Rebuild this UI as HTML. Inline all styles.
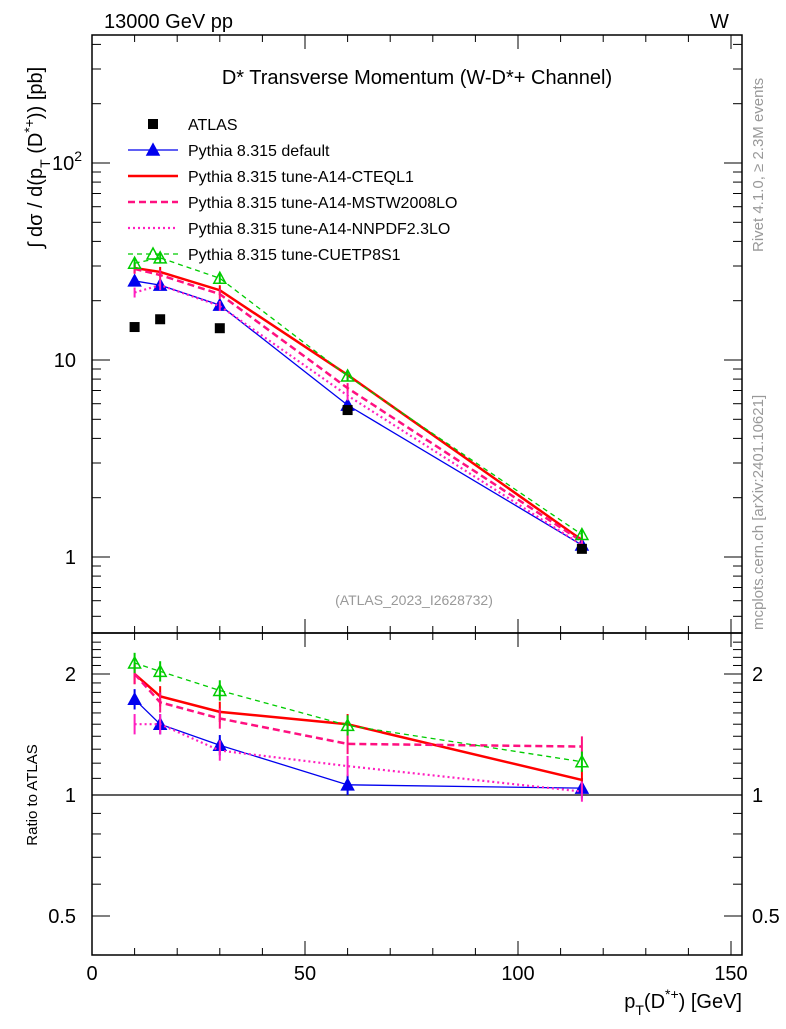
<!DOCTYPE html>
<html><head><meta charset="utf-8"><style>
body{margin:0;background:#fff;}
svg text{font-family:"Liberation Sans",sans-serif;}
</style></head><body>
<svg id="c" width="786" height="1024" xmlns="http://www.w3.org/2000/svg"></svg>
<script>
const xVals=[10,16,30,60,115];
const atlas=[14.7,16.1,14.5,5.57,1.1];
const mDefault=[25.2,24,19,5.9,1.15];
const mCteq=[29.3,28,22.6,8.4,1.22];
const mMstw=[29,27,21.6,7.2,1.2];
const mNnpdf=[22,24,18.8,6.6,1.15];
const mCuet=[31,33,26,8.3,1.3];
const rDefault=[1.73,1.50,1.33,1.06,1.04];
const rCteq=[2.0,1.76,1.61,1.50,1.09];
const rMstw=[2.0,1.70,1.55,1.34,1.32];
const rNnpdf=[1.50,1.50,1.29,1.18,1.02];
const rCuet=[2.13,2.03,1.82,1.49,1.21];
const xTicks=[0,50,100,150];
const svg=document.getElementById('c');
const NS='http://www.w3.org/2000/svg';
function el(t,a,p){const e=document.createElementNS(NS,t);for(const k in a)e.setAttribute(k,a[k]);(p||svg).appendChild(e);return e;}
const X=v=>92+v*4.26;
const Y=v=>557-Math.log10(v)*197;
const R=v=>795-Math.log10(v)*402;
const L=92,Rt=742,T=35,M=633,B=955;
// frames
let f=el('rect',{x:L,y:T,width:Rt-L,height:M-T,fill:'none',stroke:'#000','stroke-width':1.5});

f=el('rect',{x:L,y:M,width:Rt-L,height:B-M,fill:'none',stroke:'#000','stroke-width':1.5});

// x ticks
for(let v=0;v<=150;v+=10){const maj=v%50==0;const l=maj?14:7;
[[T,1],[M,-1],[M,1],[B,-1]].forEach(([y,d])=>el('line',{x1:X(v),x2:X(v),y1:y,y2:y+d*l,stroke:'#000'}));}
xTicks.forEach(v=>{const t=el('text',{x:X(v),y:980,'text-anchor':'middle','font-size':20});t.textContent=v;
});
// main y ticks
for(let d=-1;d<=2;d++)for(let k=1;k<10;k++){const v=k*Math.pow(10,d);const y=Y(v);if(y<T||y>M)continue;const l=k==1?18:9;
el('line',{x1:L,x2:L+l,y1:y,y2:y,stroke:'#000'});el('line',{x1:Rt,x2:Rt-l,y1:y,y2:y,stroke:'#000'});}
[[1,'1'],[10,'10']].forEach(([v,s])=>{const t=el('text',{x:76,y:Y(v)+7,'text-anchor':'end','font-size':20});t.textContent=s;
});
let t=el('text',{x:52,y:Y(100)+7,'font-size':20});t.innerHTML='10<tspan dy="-9" font-size="14">2</tspan>';

// ratio y ticks
for(let v=0.4;v<=2.5;v+=0.1){const y=R(v);if(y<M||y>B)continue;const maj=[0.5,1,2].some(q=>Math.abs(q-v)<1e-6);const l=maj?18:9;
el('line',{x1:L,x2:L+l,y1:y,y2:y,stroke:'#000'});el('line',{x1:Rt,x2:Rt-l,y1:y,y2:y,stroke:'#000'});}
[[0.5,'0.5'],[1,'1'],[2,'2']].forEach(([v,s])=>{let a=el('text',{x:76,y:R(v)+7,'text-anchor':'end','font-size':20});a.textContent=s;

a=el('text',{x:752,y:R(v)+7,'font-size':20});a.textContent=s;
});
el('line',{x1:L,x2:Rt,y1:R(1),y2:R(1),stroke:'#000','stroke-width':1.2});
// series
const styles=[
 {n:'default',m:mDefault,r:rDefault,c:'#0000ee',w:1.3,d:'',mk:'tri'},
 {n:'cteql1',m:mCteq,r:rCteq,c:'#ff0000',w:2.5,d:'',mk:''},
 {n:'mstw',m:mMstw,r:rMstw,c:'#ff1080',w:2.5,d:'7,4',mk:''},
 {n:'nnpdf',m:mNnpdf,r:rNnpdf,c:'#ff20c0',w:2.2,d:'2,3',mk:''},
 {n:'cuetp8s1',m:mCuet,r:rCuet,c:'#00cc00',w:1.3,d:'5,4',mk:'otri'}];
function drawSeries(s,vals,F,pfx){
 const g=el('g',{});
 const p=el('polyline',{points:xVals.map((x,i)=>X(x)+','+F(vals[i])).join(' '),fill:'none',stroke:s.c,'stroke-width':s.w,'stroke-dasharray':s.d},g);
 
 xVals.forEach((x,i)=>{const cx=X(x),cy=F(vals[i]);
  el('line',{x1:cx,x2:cx,y1:F(vals[i]*1.06),y2:F(vals[i]/1.06),stroke:s.c,'stroke-width':2},g);
  if(s.mk){const tr=el('polygon',{points:`${cx},${cy-6} ${cx-6},${cy+5} ${cx+6},${cy+5}`,fill:s.mk=='tri'?s.c:'none',stroke:s.c,'stroke-width':1.5},g);
  }});
}
styles.forEach(s=>{drawSeries(s,s.m,Y,'main');drawSeries(s,s.r,R,'ratio');});
xVals.forEach((x,i)=>{const r=el('rect',{x:X(x)-5,y:Y(atlas[i])-5,width:10,height:10,fill:'#000'});
});
// legend
const leg=[['ATLAS',null],['Pythia 8.315 default',0],['Pythia 8.315 tune-A14-CTEQL1',1],['Pythia 8.315 tune-A14-MSTW2008LO',2],['Pythia 8.315 tune-A14-NNPDF2.3LO',3],['Pythia 8.315 tune-CUETP8S1',4]];
leg.forEach(([lab,si],i)=>{const y=124+i*26;const g=el('g',{});
 if(si===null)el('rect',{x:148,y:y-5,width:10,height:10,fill:'#000'},g);
 else{const s=styles[si];el('line',{x1:128,x2:178,y1:y,y2:y,stroke:s.c,'stroke-width':s.w,'stroke-dasharray':s.d},g);
  if(s.mk)el('polygon',{points:`153,${y-6} 147,${y+5} 159,${y+5}`,fill:s.mk=='tri'?s.c:'none',stroke:s.c,'stroke-width':1.5},g);}
 const tx=el('text',{x:188,y:y+6,'font-size':16},g);tx.textContent=lab;});
// labels
function txt(x,y,s,a){const e=el('text',Object.assign({x,y},a));e.innerHTML=s;return e;}
let e=txt(104,28,'13000 GeV pp',{'font-size':20});
e=txt(710,28,'W',{'font-size':20});
e=txt(417,84,'D* Transverse Momentum (W-D*+ Channel)',{'font-size':20,'text-anchor':'middle'});
e=txt(414,605,'(ATLAS_2023_I2628732)',{'font-size':14,'text-anchor':'middle',fill:'#999'});
e=txt(0,0,'∫ dσ / d(p<tspan dy="8" font-size="14">T</tspan><tspan dy="-8"> (D</tspan><tspan dy="-8" font-size="14">*+</tspan><tspan dy="8">)) [pb]</tspan>',{'font-size':20,transform:'translate(42,248) rotate(-90)'});

e=txt(0,0,'Ratio to ATLAS',{'font-size':15,'text-anchor':'middle',transform:'translate(37,795) rotate(-90)'});
e=txt(742,1008,'p<tspan dy="7" font-size="14">T</tspan><tspan dy="-7">(D</tspan><tspan dy="-9" font-size="14">*+</tspan><tspan dy="9">) [GeV]</tspan>',{'font-size':20,'text-anchor':'end'});

e=txt(0,0,'Rivet 4.1.0, ≥ 2.3M events',{'font-size':15,fill:'#999',transform:'translate(763,252) rotate(-90)'});
e=txt(0,0,'mcplots.cern.ch [arXiv:2401.10621]',{'font-size':15,fill:'#999',transform:'translate(763,630) rotate(-90)'});
</script>
</body></html>
